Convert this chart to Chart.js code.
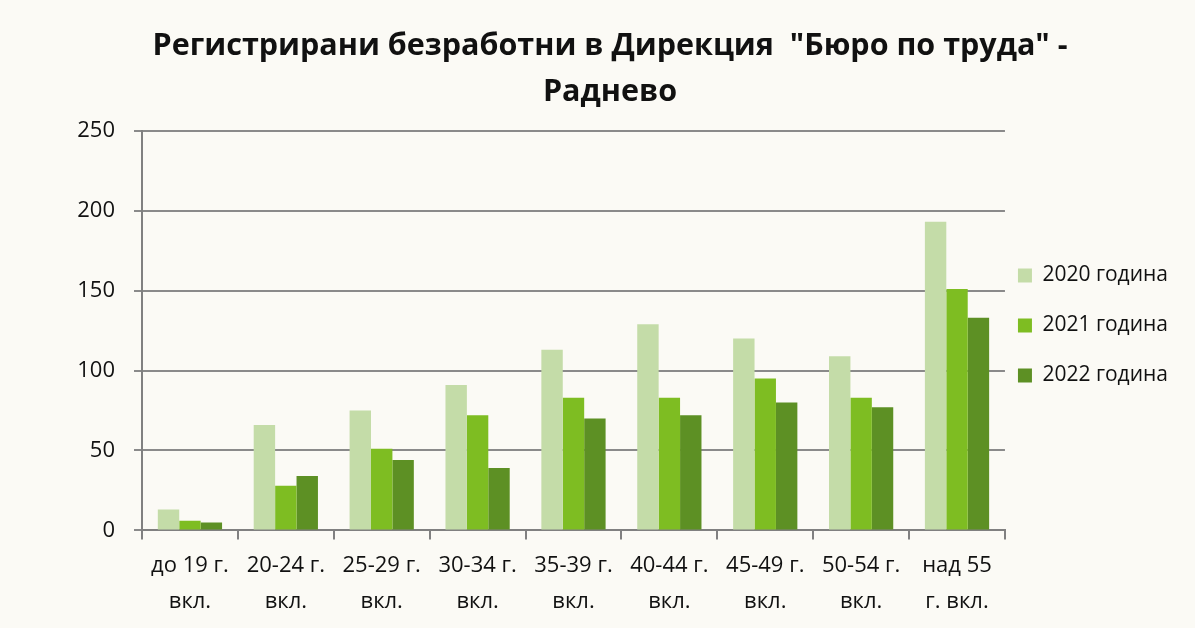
<!DOCTYPE html>
<html>
<head>
<meta charset="utf-8">
<title>Регистрирани безработни - Раднево</title>
<script src="https://cdn.jsdelivr.net/npm/chart.js"></script>
<style>
  html, body { margin: 0; padding: 0; background: #fbfaf5; }
  #wrap { width: 1195px; height: 628px; position: relative; }
</style>
</head>
<body>
<div id="wrap"><canvas id="myChart" width="1195" height="628"></canvas></div>
<script>
const categories = [
  ["до 19 г.", "вкл."],
  ["20-24 г.", "вкл."],
  ["25-29 г.", "вкл."],
  ["30-34 г.", "вкл."],
  ["35-39 г.", "вкл."],
  ["40-44 г.", "вкл."],
  ["45-49 г.", "вкл."],
  ["50-54 г.", "вкл."],
  ["над 55", "г. вкл."]
];
const y2020 = [13, 66, 75, 91, 113, 129, 120, 109, 193];
const y2021 = [6, 28, 51, 72, 83, 83, 95, 83, 151];
const y2022 = [5, 34, 44, 39, 70, 72, 80, 77, 133];
const seriesNames = ["2020 година", "2021 година", "2022 година"];

const font = "'Open Sans', Lato, sans-serif";

const bg = {
  id: "bg",
  beforeDraw(chart) {
    const c = chart.ctx;
    c.save();
    c.fillStyle = "#fbfaf5";
    c.fillRect(0, 0, chart.width, chart.height);
    c.restore();
  }
};

// legend sits closer to the plot than its item padding allows
const legendShift = {
  id: "legendShift",
  afterLayout(chart) {
    chart.legend.left -= 16;
    chart.legend.right -= 16;
  }
};

const ctx = document.getElementById("myChart");
new Chart(ctx, {
  type: "bar",
  data: {
    labels: categories,
    datasets: [
      { label: seriesNames[0], data: y2020, backgroundColor: "#c4dca8" },
      { label: seriesNames[1], data: y2021, backgroundColor: "#7ebd22" },
      { label: seriesNames[2], data: y2022, backgroundColor: "#5d9024" }
    ]
  },
  options: {
    responsive: false,
    animation: false,
    layout: { padding: { left: 26, right: 1, top: 23, bottom: 0 } },
    datasets: { bar: { categoryPercentage: 0.67, barPercentage: 1.0 } },
    plugins: {
      title: {
        display: true,
        text: ["Регистрирани безработни в Дирекция  \"Бюро по труда\" -", "Раднево"],
        color: "#111",
        font: { family: font, size: 30.5, weight: "bold", lineHeight: 1.52 },
        padding: { top: 0, bottom: 15 }
      },
      legend: {
        position: "right",
        labels: {
          color: "#111",
          font: { family: font, size: 21 },
          boxWidth: 14,
          boxHeight: 14,
          padding: 29
        }
      },
      tooltip: { enabled: false }
    },
    scales: {
      x: {
        grid: {
          offset: true,
          drawOnChartArea: false,
          color: "#808080",
          lineWidth: 2,
          tickLength: 9
        },
        border: { color: "#808080", width: 2 },
        ticks: {
          color: "#111",
          font: { family: font, size: 22, lineHeight: 1.65 },
          maxRotation: 0,
          padding: 8
        }
      },
      y: {
        min: 0,
        max: 250,
        afterFit(scale) { scale.width = 116; },
        ticks: {
          stepSize: 50,
          color: "#111",
          font: { family: font, size: 22 },
          padding: 19
        },
        grid: { color: "#8a8a8a", lineWidth: 2, tickLength: 8 },
        border: { color: "#808080", width: 2 }
      }
    }
  },
  plugins: [bg, legendShift]
});
</script>
</body>
</html>
